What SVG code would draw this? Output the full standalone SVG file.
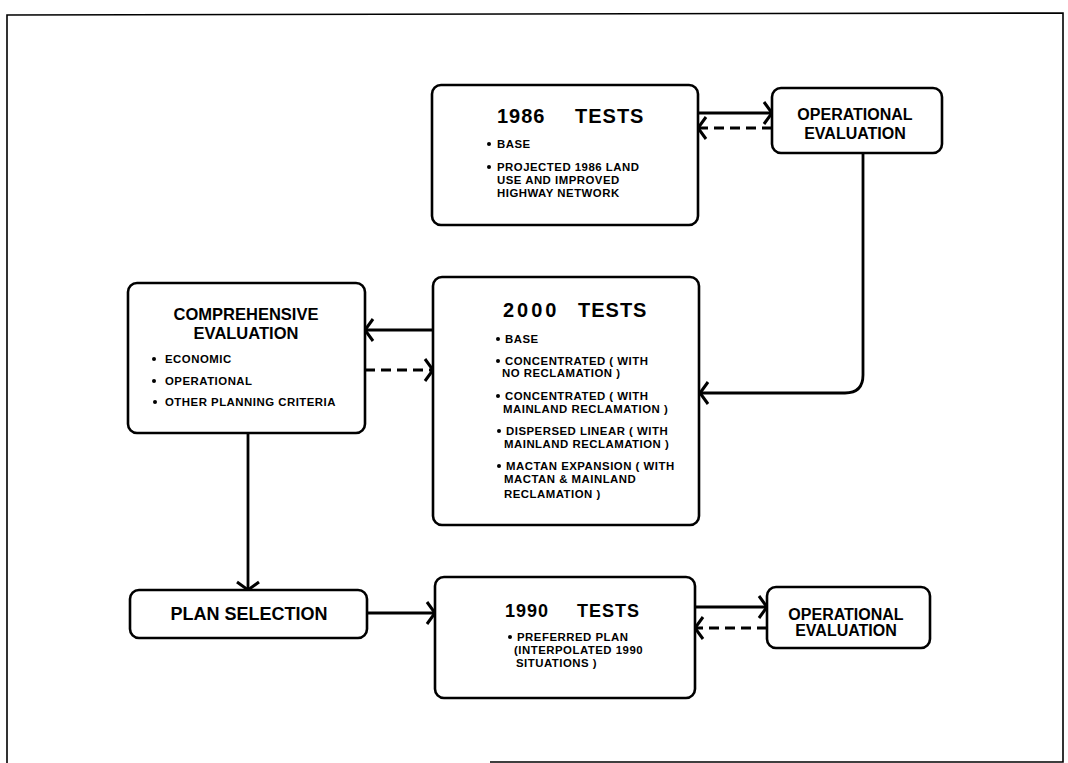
<svg xmlns="http://www.w3.org/2000/svg" width="1068" height="763" viewBox="0 0 1068 763">
<style>
.box{fill:#fff;stroke:#000;stroke-width:2.6}
.ln{fill:none;stroke:#000;stroke-width:2.8}
.dash{fill:none;stroke:#000;stroke-width:2.8;stroke-dasharray:10 6}
.t{font-family:"Liberation Sans",Arial,sans-serif;font-weight:bold;fill:#000}
.title{font-size:20px;letter-spacing:1px}
.h{font-size:16px;text-anchor:middle}
.h2{font-size:16.5px;text-anchor:middle}
.b{font-size:11.4px;letter-spacing:0.5px}
.frame{fill:none;stroke:#000;stroke-width:1.6}
</style>
<defs>
<marker id="ah" viewBox="-10 -14 14 28" refX="0" refY="0" markerWidth="14" markerHeight="28" markerUnits="userSpaceOnUse" orient="auto">
<path d="M-8,-11 L0,0 L-8,11" fill="none" stroke="#000" stroke-width="3"/>
</marker>
</defs>
<rect width="1068" height="763" fill="#fff"/>
<g id="frame">
<polyline class="frame" points="7,763 7,15 1063,13 1063,762 490,762"/>
</g>
<g id="connectors">
<line class="ln" x1="698" y1="113" x2="772" y2="113" marker-end="url(#ah)"/>
<line class="dash" x1="772" y1="128" x2="698" y2="128" marker-end="url(#ah)"/>
<path class="ln" d="M863,153 L863,375 Q863,393 845,393 L700,393" marker-end="url(#ah)"/>
<line class="ln" x1="433" y1="330" x2="365" y2="330" marker-end="url(#ah)"/>
<line class="dash" x1="365" y1="370" x2="433" y2="370" marker-end="url(#ah)"/>
<line class="ln" x1="248" y1="433" x2="248" y2="590" marker-end="url(#ah)"/>
<line class="ln" x1="367" y1="613" x2="435" y2="613" marker-end="url(#ah)"/>
<line class="ln" x1="695" y1="607" x2="767" y2="607" marker-end="url(#ah)"/>
<line class="dash" x1="767" y1="628" x2="695" y2="628" marker-end="url(#ah)"/>
</g>
<g id="tests1986">
<rect class="box" x="432" y="85" width="266" height="140" rx="9"/>
<text class="t title" y="123"><tspan x="497">1986</tspan><tspan x="575">TESTS</tspan></text>
<circle cx="489" cy="144" r="2"/>
<text class="t b" x="497" y="148">BASE</text>
<circle cx="489" cy="167" r="2"/>
<text class="t b" x="497" y="171">PROJECTED 1986 LAND</text>
<text class="t b" x="497" y="184">USE AND IMPROVED</text>
<text class="t b" x="497" y="197">HIGHWAY NETWORK</text>
</g>
<g id="opeval1">
<rect class="box" x="772" y="88" width="170" height="65" rx="9"/>
<text class="t h" x="855" y="120">OPERATIONAL</text>
<text class="t h" x="855" y="139">EVALUATION</text>
</g>
<g id="comprehensive">
<rect class="box" x="128" y="283" width="237" height="150" rx="9"/>
<text class="t h2" x="246" y="320">COMPREHENSIVE</text>
<text class="t h2" x="246" y="339">EVALUATION</text>
<circle cx="154" cy="359" r="2"/>
<text class="t b" x="165" y="363">ECONOMIC</text>
<circle cx="154" cy="381" r="2"/>
<text class="t b" x="165" y="385">OPERATIONAL</text>
<circle cx="155" cy="402" r="2"/>
<text class="t b" x="165" y="406">OTHER PLANNING CRITERIA</text>
</g>
<g id="tests2000">
<rect class="box" x="433" y="277" width="266" height="248" rx="9"/>
<text class="t title" y="317"><tspan x="503" letter-spacing="3">2000</tspan><tspan x="578">TESTS</tspan></text>
<circle cx="498" cy="339" r="2"/>
<text class="t b" x="505" y="343">BASE</text>
<circle cx="498" cy="361" r="2"/>
<text class="t b" x="505" y="365">CONCENTRATED ( WITH</text>
<text class="t b" x="502" y="377">NO RECLAMATION )</text>
<circle cx="498" cy="396" r="2"/>
<text class="t b" x="505" y="400">CONCENTRATED ( WITH</text>
<text class="t b" x="503" y="413">MAINLAND RECLAMATION )</text>
<circle cx="499" cy="431" r="2"/>
<text class="t b" x="506" y="435">DISPERSED LINEAR ( WITH</text>
<text class="t b" x="504" y="448">MAINLAND RECLAMATION )</text>
<circle cx="499" cy="466" r="2"/>
<text class="t b" x="506" y="470">MACTAN EXPANSION ( WITH</text>
<text class="t b" x="504" y="483">MACTAN &amp; MAINLAND</text>
<text class="t b" x="504" y="498">RECLAMATION )</text>
</g>
<g id="planselection">
<rect class="box" x="130" y="590" width="237" height="48" rx="9"/>
<text class="t" x="249" y="620" font-size="18" text-anchor="middle">PLAN SELECTION</text>
</g>
<g id="tests1990">
<rect class="box" x="435" y="577" width="260" height="121" rx="9"/>
<text class="t" y="617" font-size="18" letter-spacing="1"><tspan x="505">1990</tspan><tspan x="577">TESTS</tspan></text>
<circle cx="510" cy="637" r="2"/>
<text class="t b" x="517" y="641">PREFERRED PLAN</text>
<text class="t b" x="514" y="654">(INTERPOLATED 1990</text>
<text class="t b" x="516" y="667">SITUATIONS )</text>
</g>
<g id="opeval2">
<rect class="box" x="767" y="587" width="163" height="61" rx="9"/>
<text class="t h" x="846" y="620">OPERATIONAL</text>
<text class="t h" x="846" y="636">EVALUATION</text>
</g>
</svg>
